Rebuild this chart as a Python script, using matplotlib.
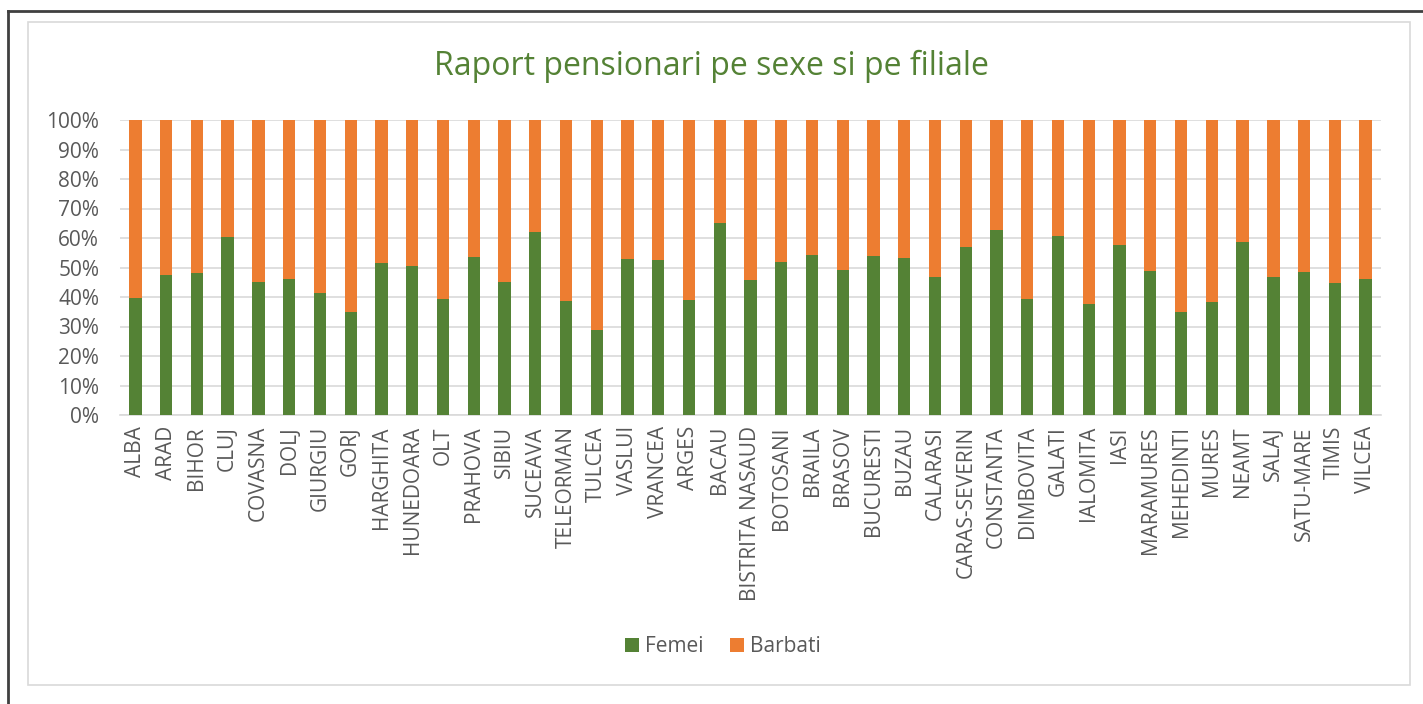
import matplotlib
matplotlib.use("Agg")
import matplotlib.pyplot as plt
from matplotlib.patches import Rectangle
from matplotlib.lines import Line2D
from matplotlib.ticker import PercentFormatter

plt.rcParams['font.family'] = ['Open Sans', 'DejaVu Sans']

# filiale si procentul de femei (restul pana la 100% sunt barbati)
filiale = ["ALBA", "ARAD", "BIHOR", "CLUJ", "COVASNA", "DOLJ", "GIURGIU", "GORJ",
           "HARGHITA", "HUNEDOARA", "OLT", "PRAHOVA", "SIBIU", "SUCEAVA",
           "TELEORMAN", "TULCEA", "VASLUI", "VRANCEA", "ARGES", "BACAU",
           "BISTRITA NASAUD", "BOTOSANI", "BRAILA", "BRASOV", "BUCURESTI", "BUZAU",
           "CALARASI", "CARAS-SEVERIN", "CONSTANTA", "DIMBOVITA", "GALATI",
           "IALOMITA", "IASI", "MARAMURES", "MEHEDINTI", "MURES", "NEAMT",
           "SALAJ", "SATU-MARE", "TIMIS", "VILCEA"]
femei = [39.8, 47.6, 48.0, 60.5, 45.2, 46.1, 41.5, 35.0, 51.5, 50.6, 39.4, 53.7,
         45.2, 61.9, 38.8, 28.7, 52.8, 52.5, 39.1, 65.2, 45.8, 52.0, 54.4, 49.2,
         54.0, 53.3, 46.9, 56.9, 62.8, 39.2, 60.7, 37.7, 57.7, 48.9, 35.0, 38.4,
         58.8, 46.9, 48.6, 44.7, 46.1]
barbati = [100 - f for f in femei]

verde = "#548235"
portocaliu = "#ED7D31"
gri = "#595959"

W, H = 1423, 704
fig = plt.figure(figsize=(W / 100, H / 100), dpi=100)

# chenarul negru si chenarul gri al graficului
fig.add_artist(Line2D([8 / W, 8 / W], [0, 1 - 11 / H], color="#404040", lw=2))
fig.add_artist(Line2D([8 / W, 1], [1 - 11 / H, 1 - 11 / H], color="#404040", lw=2))
fig.add_artist(Rectangle((28 / W, 1 - 685 / H), (1410 - 28) / W, (685 - 22) / H,
                         fill=False, edgecolor="#D9D9D9", lw=1.2))

ax = fig.add_axes([120 / W, 1 - 415 / H, (1381 - 120) / W, (415 - 120) / H])

x = range(len(filiale))
ax.bar(x, femei, width=0.4, color=verde, label="Femei", zorder=3)
ax.bar(x, barbati, width=0.4, bottom=femei, color=portocaliu, label="Barbati", zorder=3)

ax.set_xlim(-0.5, len(filiale) - 0.5)
ax.set_ylim(0, 100)
ax.set_yticks(range(0, 101, 10))
ax.yaxis.set_major_formatter(PercentFormatter(decimals=0))
ax.grid(axis="y", color="#D9D9D9", lw=1.2, zorder=0)
for s in ["top", "right", "left"]:
    ax.spines[s].set_visible(False)
ax.spines["bottom"].set_color("#D9D9D9")
ax.spines["bottom"].set_linewidth(1.2)
ax.tick_params(length=0, colors=gri, labelsize=15)
ax.tick_params(axis="y", pad=15)
ax.tick_params(axis="x", pad=8)
ax.set_xticks(list(x))
ax.set_xticklabels(filiale, rotation=90)

fig.text(0.5, 1 - 66 / H, "Raport pensionari pe sexe si pe filiale", ha="center", va="center",
         color=verde, fontsize=23)

fig.legend(loc="center", bbox_to_anchor=(723 / W, 1 - 647 / H), ncol=2, frameon=False,
           fontsize=15, labelcolor=gri, handlelength=0.65, handleheight=0.65,
           handletextpad=0.3, columnspacing=1.3)

fig.savefig("out.png", dpi=100, facecolor="white")
